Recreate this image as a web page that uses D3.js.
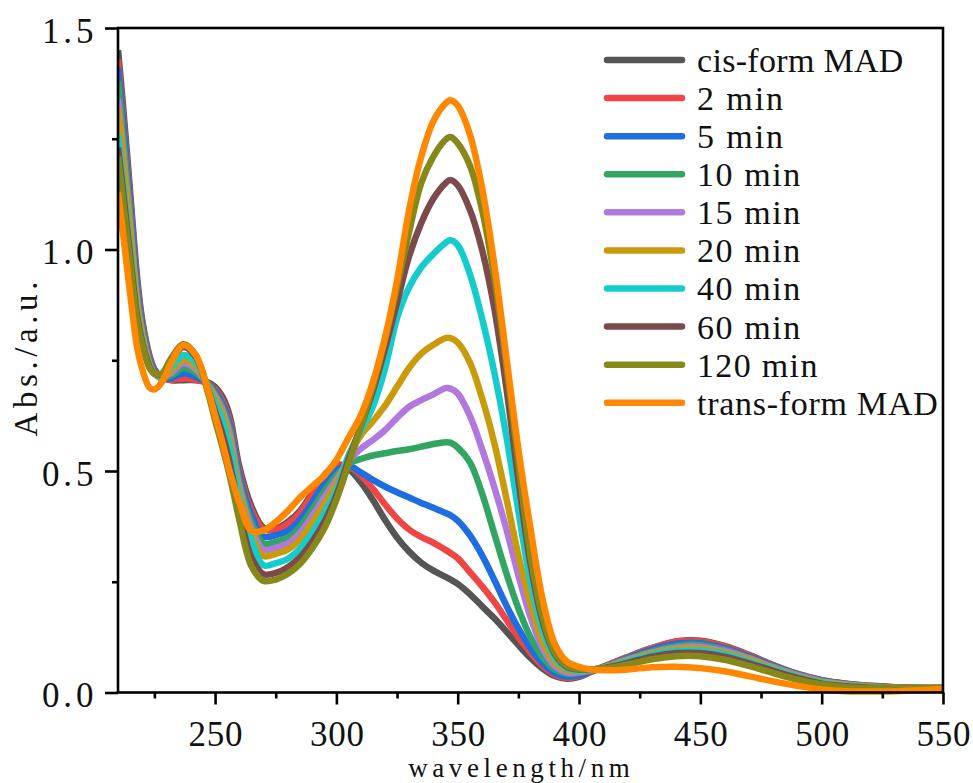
<!DOCTYPE html>
<html>
<head>
<meta charset="utf-8">
<script src="https://cdn.jsdelivr.net/npm/d3@7"></script>
<style>
  html, body { margin: 0; padding: 0; background: #fff; }
  svg { display: block; }
  text { font-family: "Liberation Serif", "DejaVu Serif", serif; fill: #111; }
</style>
</head>
<body>
<svg id="chart" width="973" height="783"></svg>
<script>
// ---------- DATA ----------
const wavelengths = [210,212,215,218,220,223,225,228,232,237,242,247,250,253,256,260,265,270,275,280,285,290,295,300,305,310,315,320,325,330,335,340,345,347,350,355,360,365,370,375,380,385,390,395,400,405,410,420,430,440,445,450,460,470,480,490,500,510,520,530,540,550];

const cisForm = [1.45,1.33,1.13,0.93,0.84,0.76,0.73,0.712,0.705,0.705,0.705,0.70, 0.69,0.668,0.625,0.51,0.42, 0.372,0.37,0.385,0.41,0.45,0.49,0.515, 0.505,0.475,0.435,0.39,0.35,0.318,0.293,0.275,0.261,0.255,0.245, 0.222,0.195,0.168,0.138,0.107,0.078,0.054,0.037,0.031, 0.035,0.047,0.058,0.08,0.10,0.115,0.118,0.117,0.105,0.085,0.062,0.042,0.028,0.02,0.015,0.012,0.01,0.01];
const min2 = [1.43,1.31,1.115,0.92,0.835,0.755,0.727,0.71,0.706,0.709,0.706,0.698, 0.685,0.66,0.615,0.50,0.412, 0.368,0.368,0.381,0.406,0.446,0.486,0.512, 0.51,0.49,0.46,0.425,0.393,0.368,0.351,0.338,0.322,0.315,0.303, 0.272,0.24,0.205,0.165,0.125,0.09,0.06,0.04,0.033, 0.037,0.047,0.058,0.08,0.10,0.115,0.117,0.116,0.104,0.084,0.061,0.042,0.028,0.02,0.015,0.012,0.01,0.01];
const min5 = [1.41,1.29,1.10,0.91,0.828,0.75,0.724,0.709,0.71,0.72,0.713,0.698, 0.68,0.652,0.605,0.49,0.40, 0.352,0.355,0.365,0.39,0.429,0.47,0.501, 0.512,0.497,0.48,0.465,0.452,0.44,0.428,0.417,0.405,0.40,0.388, 0.355,0.31,0.255,0.197,0.145,0.10,0.066,0.044,0.036, 0.039,0.048,0.057,0.078,0.097,0.11,0.112,0.111,0.10,0.081,0.06,0.041,0.027,0.019,0.014,0.012,0.01,0.01];
const min10 = [1.38,1.265,1.08,0.895,0.82,0.745,0.722,0.71,0.716,0.732,0.722,0.697, 0.675,0.645,0.595,0.478,0.385, 0.336,0.34,0.35,0.374,0.413,0.454,0.49, 0.516,0.527,0.535,0.54,0.545,0.549,0.555,0.561,0.565,0.564,0.553, 0.52,0.45,0.36,0.27,0.19,0.125,0.08,0.052,0.042, 0.044,0.05,0.057,0.076,0.093,0.105,0.108,0.107,0.097,0.079,0.058,0.04,0.026,0.018,0.014,0.011,0.01,0.01];
const min15 = [1.34,1.23,1.055,0.88,0.81,0.742,0.72,0.711,0.722,0.743,0.73,0.695, 0.67,0.638,0.585,0.466,0.372, 0.322,0.327,0.336,0.36,0.398,0.44,0.481, 0.522,0.55,0.57,0.592,0.62,0.645,0.66,0.673,0.687,0.686,0.675, 0.625,0.55,0.465,0.37,0.265,0.17,0.10,0.06,0.045, 0.046,0.05,0.056,0.074,0.09,0.101,0.104,0.103,0.094,0.077,0.057,0.039,0.025,0.018,0.013,0.011,0.01,0.01];
const min20 = [1.32,1.21,1.04,0.87,0.805,0.74,0.72,0.712,0.727,0.751,0.736,0.693, 0.665,0.63,0.572,0.455,0.36, 0.308,0.313,0.323,0.346,0.384,0.426,0.473, 0.53,0.58,0.612,0.647,0.69,0.733,0.765,0.785,0.80,0.80,0.79, 0.745,0.665,0.565,0.44,0.31,0.20,0.115,0.068,0.05, 0.049,0.051,0.056,0.072,0.088,0.098,0.10,0.099,0.09,0.074,0.055,0.037,0.024,0.017,0.013,0.011,0.01,0.01];
const min40 = [1.26,1.16,1.0,0.85,0.795,0.737,0.72,0.714,0.735,0.762,0.745,0.69, 0.655,0.615,0.555,0.44,0.345, 0.287,0.292,0.302,0.325,0.361,0.405,0.458, 0.535,0.59,0.645,0.73,0.845,0.915,0.96,0.99,1.015,1.021,1.01, 0.945,0.845,0.725,0.58,0.41,0.25,0.14,0.078,0.054, 0.05,0.051,0.055,0.07,0.085,0.094,0.095,0.094,0.086,0.07,0.052,0.035,0.022,0.015,0.012,0.01,0.01,0.01];
const min60 = [1.23,1.135,0.985,0.845,0.79,0.735,0.72,0.718,0.75,0.78,0.758,0.685, 0.635,0.585,0.52,0.41,0.305, 0.267,0.27,0.283,0.305,0.34,0.385,0.445, 0.525,0.60,0.68,0.775,0.88,0.985,1.06,1.115,1.15,1.157,1.145, 1.09,1.0,0.87,0.69,0.48,0.29,0.16,0.087,0.058, 0.052,0.052,0.055,0.067,0.081,0.089,0.09,0.089,0.081,0.066,0.049,0.033,0.02,0.014,0.011,0.01,0.01,0.01];
const min120 = [1.21,1.115,0.97,0.835,0.785,0.732,0.72,0.72,0.755,0.786,0.762,0.678, 0.615,0.555,0.49,0.39,0.285, 0.252,0.255,0.268,0.29,0.325,0.37,0.435, 0.515,0.60,0.69,0.795,0.915,1.04,1.15,1.21,1.248,1.254,1.24, 1.19,1.09,0.94,0.74,0.52,0.31,0.17,0.09,0.06, 0.053,0.052,0.054,0.063,0.075,0.082,0.083,0.082,0.074,0.06,0.044,0.029,0.018,0.012,0.01,0.01,0.01,0.01];
const transForm = [1.13,1.04,0.90,0.775,0.73,0.688,0.684,0.70,0.745,0.784,0.762,0.685, 0.625,0.565,0.50,0.43,0.365, 0.366,0.385,0.41,0.44,0.465,0.49,0.525, 0.575,0.625,0.70,0.80,0.93,1.09,1.21,1.29,1.33,1.337,1.325, 1.26,1.14,0.97,0.76,0.55,0.37,0.21,0.11,0.07, 0.058,0.052,0.05,0.052,0.057,0.058,0.057,0.055,0.048,0.037,0.025,0.015,0.007,0.003,0.002,0.003,0.005,0.008];

const seriesNames = ["cis-form MAD","2 min","5 min","10 min","15 min","20 min","40 min","60 min","120 min","trans-form MAD"];
const seriesValues = [cisForm, min2, min5, min10, min15, min20, min40, min60, min120, transForm];
const seriesColors = ["#555555","#ef4545","#1f6de3","#32a563","#b178e0","#c99b0a","#14cccc","#7b4a4a","#86881a","#ff8800"];

const xMajorTicks = [250,300,350,400,450,500,550];
const xMinorTicks = [225,275,325,375,425,475,525];
const yMajorTicks = [0.0,0.5,1.0,1.5];
const yMinorTicks = [0.25,0.75,1.25];
const xTitle = "wavelength/nm";
const yTitle = "Abs./a.u.";

// ---------- LAYOUT ----------
const FONT = '"Liberation Serif", "DejaVu Serif", serif';
const L = 118, R = 943, T = 28, B = 692.5;
const svg = d3.select("#chart");
const x = d3.scaleLinear().domain([210, 550]).range([L, R]);
const y = d3.scaleLinear().domain([0, 1.5]).range([B, T]);

function mono(sel, charW) {
  sel.attr("textLength", function() { return this.textContent.length * charW; })
     .attr("lengthAdjust", "spacing");
}

svg.append("defs").append("clipPath").attr("id", "plotclip")
  .append("rect").attr("x", L).attr("y", 0).attr("width", R - L).attr("height", 783);

// lines
const line = d3.line().x(d => x(d[0])).y(d => y(d[1])).curve(d3.curveCatmullRom.alpha(0.5));
const gLines = svg.append("g").attr("clip-path", "url(#plotclip)");
seriesValues.forEach((vals, i) => {
  const pts = wavelengths.map((w, j) => [w, vals[j]]);
  gLines.append("path").datum(pts)
    .attr("d", line)
    .attr("fill", "none")
    .attr("stroke", seriesColors[i])
    .attr("stroke-width", 6.5)
    .attr("stroke-linejoin", "round")
    .attr("stroke-linecap", "butt");
});

// axes
const axW = 2.6;
const gx = svg.append("g").attr("transform", `translate(0,${B})`)
  .call(d3.axisBottom(x).tickValues(xMajorTicks).tickSize(12).tickSizeOuter(0).tickFormat(d3.format("d")));
gx.attr("font-family", null).attr("font-size", null);
gx.select(".domain").remove();
gx.selectAll(".tick line").attr("stroke", "#000").attr("stroke-width", axW);
gx.selectAll(".tick text").attr("y", 53).attr("dy", 0)
  .style("font-size", "35px").style("font-family", FONT).attr("fill", "#111")
  .call(mono, 18);

const gxm = svg.append("g").attr("transform", `translate(0,${B})`)
  .call(d3.axisBottom(x).tickValues(xMinorTicks).tickSize(6).tickSizeOuter(0).tickFormat(""));
gxm.select(".domain").remove();
gxm.selectAll(".tick line").attr("stroke", "#000").attr("stroke-width", axW);

const gy = svg.append("g").attr("transform", `translate(${L},0)`)
  .call(d3.axisLeft(y).tickValues(yMajorTicks).tickSize(13).tickSizeOuter(0).tickFormat(d3.format(".1f")));
gy.attr("font-family", null).attr("font-size", null);
gy.select(".domain").remove();
gy.selectAll(".tick line").attr("stroke", "#000").attr("stroke-width", axW);
gy.selectAll(".tick text").attr("x", -24.5).attr("dy", 0).attr("y", 14)
  .style("font-size", "35px").style("font-family", FONT).attr("fill", "#111")
  .call(mono, 17.2);

const gym = svg.append("g").attr("transform", `translate(${L},0)`)
  .call(d3.axisLeft(y).tickValues(yMinorTicks).tickSize(6).tickSizeOuter(0).tickFormat(""));
gym.select(".domain").remove();
gym.selectAll(".tick line").attr("stroke", "#000").attr("stroke-width", axW);

// frame
svg.append("rect").attr("x", L).attr("y", T).attr("width", R - L).attr("height", B - T)
  .attr("fill", "none").attr("stroke", "#000").attr("stroke-width", axW);

// axis titles
svg.append("text").attr("x", 519).attr("y", 777).attr("text-anchor", "middle")
  .style("font-size", "27px").style("font-family", FONT).text(xTitle).call(mono, 17.05);
svg.append("text").attr("transform", "translate(37,359) rotate(-90)").attr("text-anchor", "middle")
  .style("font-size", "33px").style("font-family", FONT).text(yTitle).call(mono, 17.2);

// legend
const legX1 = 607, legX2 = 682, legTextX = 697, legY0 = 60, legDY = 38.08;
const gLeg = svg.append("g");
seriesNames.forEach((name, i) => {
  const yy = legY0 + i * legDY;
  gLeg.append("line").attr("x1", legX1).attr("x2", legX2).attr("y1", yy).attr("y2", yy)
    .attr("stroke", seriesColors[i]).attr("stroke-width", 6.5).attr("stroke-linecap", "round");
  gLeg.append("text").attr("x", legTextX).attr("y", yy + 12)
    .style("font-size", "34px").style("font-family", FONT).text(name).call(mono, 17.2);
});
</script>
</body>
</html>
